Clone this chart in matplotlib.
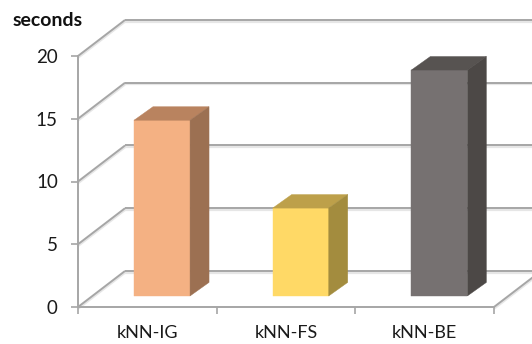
import matplotlib
matplotlib.use("Agg")
import matplotlib.pyplot as plt
from matplotlib.patches import Polygon

categories = ["kNN-IG", "kNN-FS", "kNN-BE"]
seconds = [14, 7, 18]
y_ticks = [0, 5, 10, 15, 20]
front_colors = ["#f4b183", "#ffd966", "#767171"]
top_colors = ["#b9835f", "#bda04a", "#575351"]
side_colors = ["#9c7052", "#a38c3e", "#4c4846"]

GRID = "#a6a6a6"
SHADOW = "#e6e6e6"

# Oblique projection, in data units of the axes below
WALL_DX, WALL_DY = 0.339, 2.87
BAR_WIDTH = 0.404
BAR_DX, BAR_DY = 0.137, 1.08
BASE_DX, BASE_DY = 0.106, 0.88

plt.rcParams["font.family"] = ["Lato", "DejaVu Sans"]
fig = plt.figure(figsize=(5.32, 3.44), dpi=100)
ax = fig.add_axes([78 / 532, 1 - 307 / 344, 416 / 532, 251 / 344])
ax.set_xlim(0, 3)
ax.set_ylim(0, 20)


def wall_line(x0, y0, x1, y1, z=1):
    # Soft drop shadow under each wall line, then the line itself
    ax.plot([x0, x1], [y0 - 0.14, y1 - 0.14], color=SHADOW, lw=1.6, clip_on=False, zorder=z, solid_capstyle="butt")
    ax.plot([x0, x1], [y0, y1], color=GRID, lw=1.4, clip_on=False, zorder=z + 0.1, solid_capstyle="butt")


# Gridlines run up the left wall and along the back wall
for v in y_ticks:
    wall_line(0, v, WALL_DX, v + WALL_DY)
    wall_line(WALL_DX, v + WALL_DY, 3 + WALL_DX, v + WALL_DY)
# Right edge of the floor
wall_line(3, 0, 3 + WALL_DX, WALL_DY)

# Each bar is a front face plus top and side faces
for i, (value, front, top, side) in enumerate(zip(seconds, front_colors, top_colors, side_colors)):
    x0 = i + 0.5 - BAR_WIDTH / 2 + BASE_DX
    x1 = x0 + BAR_WIDTH
    y0 = BASE_DY
    y1 = y0 + value
    faces = [
        ([(x0, y0), (x1, y0), (x1, y1), (x0, y1)], front),
        ([(x0, y1), (x1, y1), (x1 + BAR_DX, y1 + BAR_DY), (x0 + BAR_DX, y1 + BAR_DY)], top),
        ([(x1, y0), (x1 + BAR_DX, y0 + BAR_DY), (x1 + BAR_DX, y1 + BAR_DY), (x1, y1)], side),
    ]
    for verts, color in faces:
        ax.add_patch(Polygon(verts, closed=True, facecolor=color, edgecolor=color, lw=0.3, zorder=3, clip_on=False))

for name in ("top", "right"):
    ax.spines[name].set_visible(False)
for name in ("left", "bottom"):
    ax.spines[name].set_color(GRID)
    ax.spines[name].set_linewidth(1.4)
    ax.spines[name].set_zorder(2)

ax.set_yticks(y_ticks)
ax.set_xticks(range(4))
ax.set_xticklabels([])
ax.set_xticks([i + 0.5 for i in range(len(categories))], categories, minor=True)
ax.tick_params(axis="y", which="major", length=5, width=1.2, color=GRID, labelcolor="#1a1a1a", labelsize=13.5, pad=9.5)
ax.tick_params(axis="x", which="major", length=5, width=1.2, color=GRID)
ax.tick_params(axis="x", which="minor", length=0, labelcolor="#1a1a1a", labelsize=13, pad=13)

ax.text(13 / 532, 1 - 20 / 344, "seconds", transform=fig.transFigure, ha="left", va="center",
        fontsize=14, fontweight="bold", color="#111111")

fig.savefig("out.png", dpi=100, facecolor="white")
